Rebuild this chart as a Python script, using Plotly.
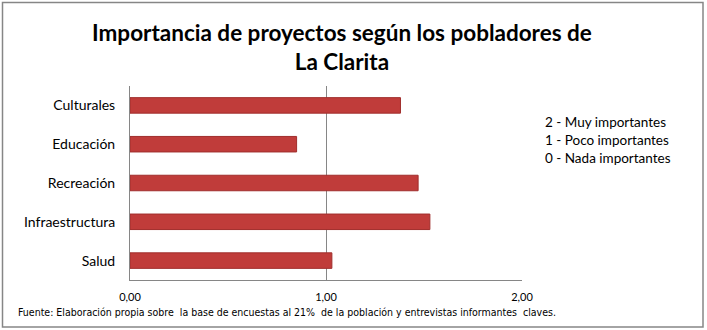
import plotly.graph_objects as go

categories = ["Salud", "Infraestructura", "Recreación", "Educación", "Culturales"]
values = [1.03, 1.53, 1.47, 0.85, 1.38]
tick_vals = [0, 1, 2]
legend_lines = ["2 - Muy importantes", "1 - Poco importantes", "0 - Nada importantes"]
title_text = "Importancia de proyectos según los pobladores de<br>La Clarita"
source_text = "Fuente: Elaboración propia sobre  la base de encuestas al 21%  de la población y entrevistas informantes  claves."

W, H = 707, 330
ML, MR, MT, MB = 130, 185, 86, 50
pw = W - ML - MR
ph = H - MT - MB

def px_x(p):
    return (p - ML) / pw

def px_y(p):
    return (H - MB - p) / ph

fig = go.Figure()
fig.add_trace(go.Bar(
    y=categories, x=values, orientation="h", width=0.4,
    marker=dict(color="#C03C3A", line=dict(color="#A02E2C", width=1)),
    hoverinfo="x+y",
))

font_main = "Lato, Calibri, Carlito, sans-serif"

fig.update_layout(
    width=W, height=H,
    margin=dict(l=ML, r=MR, t=MT, b=MB),
    paper_bgcolor="white", plot_bgcolor="white",
    separators=",.",
    showlegend=False,
    font=dict(family=font_main, size=12, color="#000000"),
    xaxis=dict(range=[0, 2], tickvals=tick_vals, tickformat=".2f", showgrid=True,
               gridcolor="#868686", gridwidth=1, showline=True, linecolor="#868686",
               linewidth=1, zeroline=False, ticks="", ticklabelstandoff=7,
               tickfont=dict(size=11, family=font_main), fixedrange=True),
    yaxis=dict(showline=True, linecolor="#868686", linewidth=1, ticks="",
               ticklabelstandoff=11, tickfont=dict(size=14, family=font_main),
               showgrid=False, fixedrange=True),
)

# outer chart border
fig.add_shape(type="rect", xref="paper", yref="paper",
              x0=px_x(2.5), x1=px_x(703), y0=px_y(327), y1=px_y(2.5),
              line=dict(color="#868686", width=1.5), fillcolor="rgba(0,0,0,0)", layer="below")

# title
fig.add_annotation(text="<b>" + title_text + "</b>", xref="paper", yref="paper",
                   x=px_x(342), y=px_y(47), xanchor="center", yanchor="middle",
                   showarrow=False, align="center",
                   font=dict(size=22.5, family=font_main, color="#000"))

# legend text block
for i, t in enumerate(legend_lines):
    fig.add_annotation(text=t, xref="paper", yref="paper", x=px_x(543), y=px_y(122 + 18 * i),
                       xanchor="left", yanchor="middle", showarrow=False,
                       font=dict(size=13.5, family=font_main, color="#000"))

# source note
fig.add_annotation(text=source_text, xref="paper", yref="paper", x=px_x(16), y=px_y(312),
                   xanchor="left", yanchor="middle", showarrow=False,
                   font=dict(size=10.5, family="'Liberation Sans Narrow', 'DejaVu Sans Condensed', sans-serif", color="#000"))

fig.write_html("out.html")
